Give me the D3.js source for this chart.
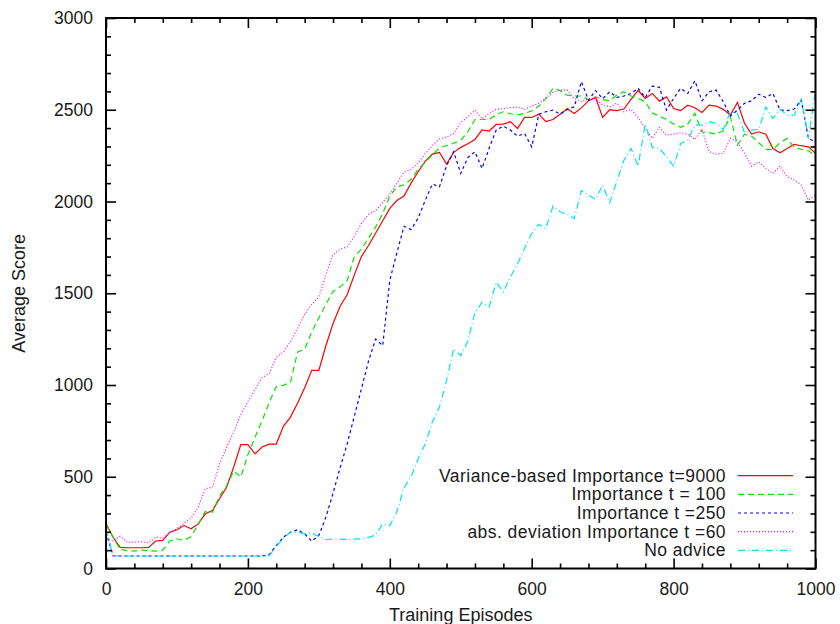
<!DOCTYPE html>
<html>
<head>
<meta charset="utf-8">
<script src="https://cdn.jsdelivr.net/npm/d3@7"></script>
<style>
    body { margin: 0; background: #fff; }
    svg text { font-family: "Liberation Sans", Arial, Helvetica, sans-serif; fill: #1a1a1a; }
</style>
</head>
<body>
<svg id="chart" width="840" height="624"></svg>
<script>
// episodes at which the averages were recorded
const episodes = [
    0, 10, 20, 30, 40, 50, 60, 70, 80, 90,
    100, 110, 120, 130, 140, 150, 160, 170, 180, 190,
    200, 210, 220, 230, 240, 250, 260, 270, 280, 290,
    300, 310, 320, 330, 340, 350, 360, 370, 380, 390,
    400, 410, 420, 430, 440, 450, 460, 470, 480, 490,
    500, 510, 520, 530, 540, 550, 560, 570, 580, 590,
    600, 610, 620, 630, 640, 650, 660, 670, 680, 690,
    700, 710, 720, 730, 740, 750, 760, 770, 780, 790,
    800, 810, 820, 830, 840, 850, 860, 870, 880, 890,
    900, 910, 920, 930, 940, 950, 960, 970, 980, 990,
    1000];

const varianceImportance = [
    245, 170, 115, 113, 113, 113, 115, 150, 153, 198,
    211, 234, 216, 243, 298, 316, 380, 443, 553, 675,
    675, 625, 662, 678, 678, 775, 825, 900, 985, 1080,
    1080, 1215, 1335, 1429, 1493, 1600, 1700, 1760, 1827, 1895,
    1962, 2005, 2030, 2100, 2162, 2220, 2258, 2267, 2204, 2268,
    2295, 2315, 2338, 2390, 2384, 2420, 2422, 2435, 2398, 2458,
    2458, 2476, 2435, 2447, 2476, 2505, 2480, 2510, 2548, 2567,
    2458, 2500, 2495, 2504, 2556, 2605, 2562, 2589, 2547, 2571,
    2507, 2495, 2525, 2511, 2485, 2525, 2520, 2502, 2471, 2540,
    2425, 2367, 2380, 2367, 2289, 2265, 2289, 2311, 2304, 2298,
    2262];

const importance100 = [
    240, 170, 104, 97, 95, 100, 97, 95, 100, 150,
    162, 153, 175, 240, 311, 307, 395, 450, 531, 498,
    620, 716, 805, 905, 992, 998, 1015, 1180, 1195, 1290,
    1365, 1440, 1510, 1535, 1571, 1700, 1740, 1800, 1860, 1935,
    2030, 2080, 2090, 2120, 2175, 2215, 2255, 2292, 2305, 2318,
    2333, 2380, 2447, 2447, 2447, 2474, 2489, 2478, 2472, 2480,
    2494, 2520, 2560, 2617, 2604, 2580, 2575, 2575, 2555, 2570,
    2556, 2549, 2580, 2598, 2575, 2562, 2544, 2482, 2466, 2447,
    2422, 2404, 2422, 2480, 2380, 2375, 2367, 2385, 2462, 2307,
    2367, 2356, 2320, 2284, 2284, 2320, 2344, 2295, 2284, 2276,
    2249];

const importance250 = [
    198, 70, 68, 68, 68, 68, 68, 68, 68, 68,
    68, 68, 68, 68, 68, 68, 68, 68, 68, 68,
    68, 68, 68, 75, 125, 170, 198, 211, 189, 149,
    180, 280, 410, 550, 680, 830, 980, 1130, 1250, 1215,
    1571, 1720, 1865, 1847, 1910, 2007, 2095, 2080, 2195, 2271,
    2153, 2240, 2271, 2180, 2290, 2390, 2410, 2389, 2356, 2370,
    2298, 2475, 2489, 2498, 2476, 2502, 2516, 2653, 2553, 2604,
    2560, 2598, 2567, 2575, 2589, 2617, 2567, 2629, 2622, 2498,
    2562, 2617, 2589, 2658, 2549, 2598, 2607, 2544, 2466, 2498,
    2535, 2549, 2585, 2567, 2589, 2498, 2495, 2504, 2553, 2344,
    2325];

const absDeviation60 = [
    162, 150, 176, 142, 144, 146, 140, 171, 165, 195,
    218, 245, 275, 335, 435, 443, 570, 660, 744, 840,
    910, 975, 1040, 1062, 1150, 1180, 1235, 1310, 1385, 1440,
    1480, 1600, 1710, 1740, 1753, 1810, 1880, 1930, 1950, 1995,
    2040, 2100, 2160, 2176, 2211, 2260, 2305, 2342, 2350, 2371,
    2430, 2462, 2498, 2450, 2480, 2503, 2505, 2512, 2515, 2502,
    2520, 2535, 2565, 2595, 2607, 2607, 2562, 2544, 2560, 2562,
    2525, 2516, 2535, 2489, 2502, 2458, 2398, 2344, 2404, 2362,
    2367, 2375, 2367, 2338, 2393, 2271, 2258, 2262, 2344, 2325,
    2262, 2193, 2216, 2180, 2153, 2193, 2135, 2116, 2089, 2007,
    2035];

const noAdvice = [
    215, 70, 68, 68, 68, 68, 68, 68, 68, 68,
    68, 68, 68, 68, 68, 68, 68, 68, 68, 68,
    68, 68, 68, 70, 120, 165, 198, 198, 189, 193,
    175, 158, 160, 160, 158, 160, 162, 170, 182, 243,
    234, 310, 440, 500, 598, 680, 800, 880, 1025, 1198,
    1160, 1240, 1395, 1450, 1425, 1560, 1507, 1589, 1660, 1745,
    1825, 1876, 1853, 1975, 1944, 1930, 1907, 2060, 2035, 2011,
    2089, 1993, 2110, 2225, 2289, 2193, 2422, 2295, 2289, 2244,
    2193, 2316, 2335, 2416, 2416, 2435, 2425, 2393, 2489, 2480,
    2375, 2389, 2393, 2516, 2453, 2502, 2471, 2471, 2556, 2344,
    2607];

const seriesNames = [
    "Variance-based Importance t=9000",
    "Importance t = 100",
    "Importance t =250",
    "abs. deviation Importance t =60",
    "No advice"];
const seriesValues = [varianceImportance, importance100, importance250, absDeviation60, noAdvice];

const xMajorTicks = [0, 200, 400, 600, 800, 1000];
const xMinorTicks = [40, 80, 120, 160, 240, 280, 320, 360, 440, 480, 520, 560, 640, 680, 720, 760, 840, 880, 920, 960];
const yMajorTicks = [0, 500, 1000, 1500, 2000, 2500, 3000];
const yMinorTicks = [100, 200, 300, 400, 600, 700, 800, 900, 1100, 1200, 1300, 1400,
    1600, 1700, 1800, 1900, 2100, 2200, 2300, 2400, 2600, 2700, 2800, 2900];

// gnuplot-like line styles, one per series
const styles = [
    {color: "#ff0000", dash: null},
    {color: "#00e600", dash: "6,4"},
    {color: "#0000ff", dash: "3,3"},
    {color: "#ff00ff", dash: "1,2"},
    {color: "#00e5ee", dash: "7,3,1,3"}
];

const margins = {left: 106, right: 24.5, top: 18, bottom: 55.5};

/**
 * Draws the four mirrored axes with inward ticks
 * @param g
 * @param scales
 */
function addAxes(g, scales) {
    const {x, y} = scales;
    const [x0, x1] = x.range();
    const [y0, y1] = y.range();
    const plain = d3.format('d');

    const styleTicks = sel => {
        sel.select('.domain').remove();
        sel.selectAll('line').attr('stroke', '#000').attr('stroke-width', 1.6);
        sel.selectAll('text').style('font-size', '17.5px').attr('fill', '#1a1a1a');
    };

    // bottom, with labels
    g.append('g').attr('transform', `translate(0,${y0})`)
        .call(d3.axisBottom(x).tickValues(xMajorTicks).tickFormat(plain).tickSize(-10).tickPadding(14))
        .call(styleTicks);
    g.append('g').attr('transform', `translate(0,${y0})`)
        .call(d3.axisBottom(x).tickValues(xMinorTicks).tickSize(-5).tickFormat(''))
        .call(styleTicks);
    // top mirror
    g.append('g').attr('transform', `translate(0,${y1})`)
        .call(d3.axisTop(x).tickValues(xMajorTicks).tickSize(-10).tickFormat(''))
        .call(styleTicks);
    g.append('g').attr('transform', `translate(0,${y1})`)
        .call(d3.axisTop(x).tickValues(xMinorTicks).tickSize(-5).tickFormat(''))
        .call(styleTicks);
    // left, with labels
    g.append('g').attr('transform', `translate(${x0},0)`)
        .call(d3.axisLeft(y).tickValues(yMajorTicks).tickFormat(plain).tickSize(-10).tickPadding(13))
        .call(styleTicks);
    g.append('g').attr('transform', `translate(${x0},0)`)
        .call(d3.axisLeft(y).tickValues(yMinorTicks).tickSize(-5).tickFormat(''))
        .call(styleTicks);
    // right mirror
    g.append('g').attr('transform', `translate(${x1},0)`)
        .call(d3.axisRight(y).tickValues(yMajorTicks).tickSize(-10).tickFormat(''))
        .call(styleTicks);
    g.append('g').attr('transform', `translate(${x1},0)`)
        .call(d3.axisRight(y).tickValues(yMinorTicks).tickSize(-5).tickFormat(''))
        .call(styleTicks);

    // frame
    g.append('rect')
        .attr('x', x0).attr('y', y1)
        .attr('width', x1 - x0).attr('height', y0 - y1)
        .attr('fill', 'none').attr('stroke', '#000').attr('stroke-width', 2);

    g.append('text')
        .attr('transform', `translate(19,${(y0 + y1) / 2}) rotate(-90)`)
        .attr('text-anchor', 'middle')
        .attr('dy', '0.35em')
        .style('font-size', '18px')
        .text('Average Score');

    g.append('text')
        .attr('x', (x0 + x1) / 2)
        .attr('y', 621)
        .attr('text-anchor', 'middle')
        .style('font-size', '18px')
        .text('Training Episodes');
}

/**
 * Adds one path per series
 * @param g
 * @param scales
 */
function addLines(g, scales) {
    const makeLinePath = d3.line()
        .x((d, i) => scales.x(episodes[i]))
        .y(d => scales.y(d));

    g.selectAll('.series')
        .data(seriesValues)
        .enter()
        .append('path')
        .attr('class', 'series')
        .attr('fill', 'none')
        .attr('stroke', (d, i) => styles[i].color)
        .attr('stroke-width', 1.2)
        .attr('stroke-dasharray', (d, i) => styles[i].dash)
        .attr('d', d => makeLinePath(d));
}

/**
 * Legend in the lower right, text right aligned before the sample line
 * @param g
 */
function addLegend(g) {
    const rowY = d3.scaleLinear().domain([0, 4]).range([475.7, 550.3]);
    const rows = g.selectAll('.legend-row')
        .data(seriesNames)
        .enter().append('g')
        .attr('class', 'legend-row')
        .attr('transform', (d, i) => `translate(0,${rowY(i)})`);

    rows.append('text')
        .attr('x', 726)
        .attr('dy', '0.35em')
        .attr('text-anchor', 'end')
        .style('font-size', '17.5px')
        .style('letter-spacing', '0.45px')
        .text(d => d);

    rows.append('line')
        .attr('x1', 738).attr('x2', 793)
        .attr('stroke', (d, i) => styles[i].color)
        .attr('stroke-width', 1.2)
        .attr('stroke-dasharray', (d, i) => styles[i].dash);
}

function drawChart(svg) {
    const width = +svg.getAttribute('width');
    const height = +svg.getAttribute('height');

    const xScale = d3.scaleLinear()
        .domain([0, 1000])
        .range([margins.left, width - margins.right]);
    const yScale = d3.scaleLinear()
        .domain([0, 3000])
        .range([height - margins.bottom, margins.top]);
    const scales = {x: xScale, y: yScale};

    const g = d3.select(svg).append('g');
    addLines(g, scales);
    addAxes(g, scales);
    addLegend(g);
}

drawChart(document.getElementById('chart'));
</script>
</body>
</html>
